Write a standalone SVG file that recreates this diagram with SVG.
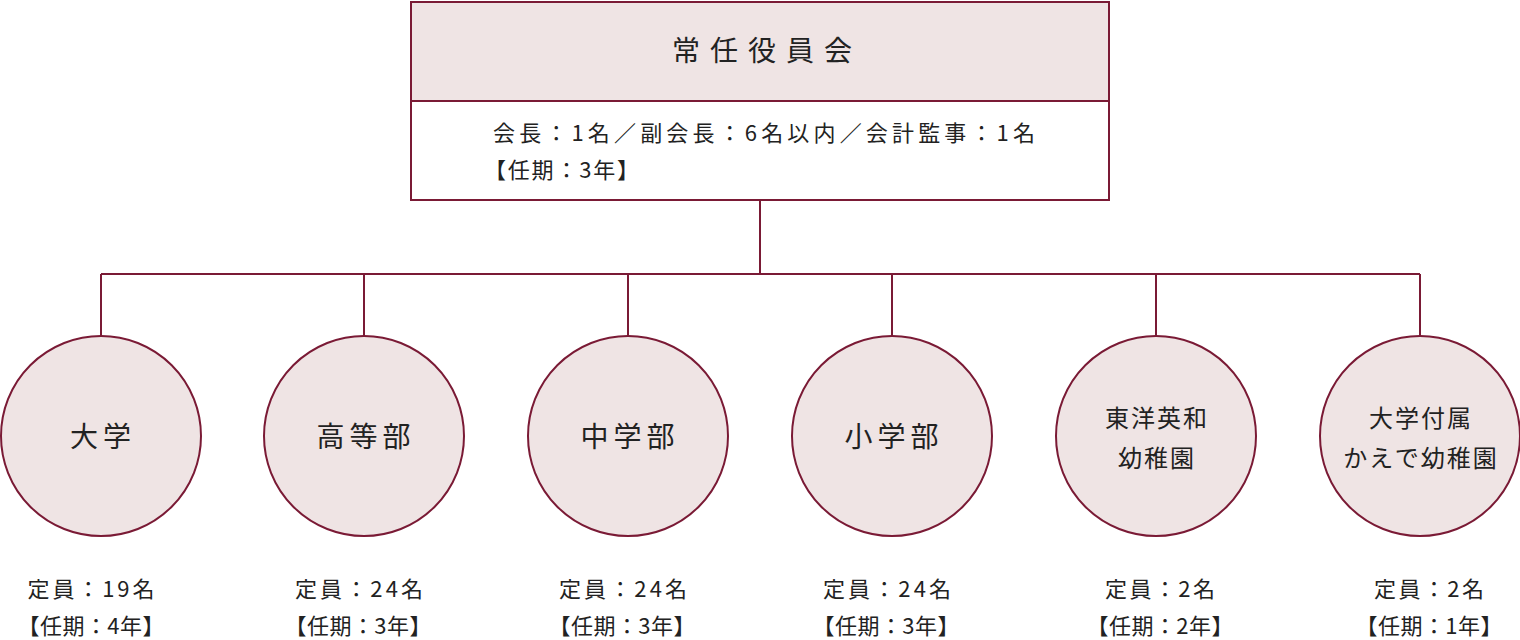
<svg xmlns="http://www.w3.org/2000/svg" width="1520" height="640" viewBox="0 0 1520 640">
<style>
text{font-family:"Noto Sans CJK JP","Noto Sans",sans-serif;fill:#222}
.n{fill:#efe4e4;stroke:#7a1a35;stroke-width:2}
.l{stroke:#7a1a35;stroke-width:2;fill:none}
.c{font-size:28px;text-anchor:middle;letter-spacing:5px}
.c2{font-size:24px;text-anchor:middle;letter-spacing:2px}
.b{font-size:22px;text-anchor:middle}
</style>
<rect width="1520" height="640" fill="#fff"/>
<g id="top">
<rect class="n" x="411" y="2" width="698" height="99"/>
<rect class="l" x="411" y="101" width="698" height="99" fill="#fff"/>
<text x="672" y="61" font-size="28" textLength="180" lengthAdjust="spacing">常任役員会</text>
<text x="493" y="141" font-size="22" textLength="542" lengthAdjust="spacing">会長：1名／副会長：6名以内／会計監事：1名</text>
<text x="484" y="178" font-size="22" textLength="155" lengthAdjust="spacing">【任期：3年】</text>
</g>
<g id="connectors" class="l">
<path d="M760 200V274M101 274H1420M101 274V336M364 274V336M628 274V336M892 274V336M1156 274V336M1420 274V336"/>
</g>
<g id="n1"><circle class="n" cx="101" cy="436" r="100"/><text class="c" x="103" y="447">大学</text><text class="b" x="91" y="597" textLength="127" lengthAdjust="spacing">定員：19名</text><text class="b" x="91" y="634" textLength="147" lengthAdjust="spacing">【任期：4年】</text></g>
<g id="n2"><circle class="n" cx="364" cy="436" r="100"/><text class="c" x="366" y="447">高等部</text><text class="b" x="359" y="597" textLength="128" lengthAdjust="spacing">定員：24名</text><text class="b" x="358" y="634" textLength="147" lengthAdjust="spacing">【任期：3年】</text></g>
<g id="n3"><circle class="n" cx="628" cy="436" r="100"/><text class="c" x="630" y="447">中学部</text><text class="b" x="623" y="597" textLength="128" lengthAdjust="spacing">定員：24名</text><text class="b" x="622" y="634" textLength="147" lengthAdjust="spacing">【任期：3年】</text></g>
<g id="n4"><circle class="n" cx="892" cy="436" r="100"/><text class="c" x="894" y="447">小学部</text><text class="b" x="887" y="597" textLength="128" lengthAdjust="spacing">定員：24名</text><text class="b" x="886" y="634" textLength="147" lengthAdjust="spacing">【任期：3年】</text></g>
<g id="n5"><circle class="n" cx="1156" cy="436" r="100"/><text class="c2" x="1157" y="427">東洋英和</text><text class="c2" x="1157" y="467">幼稚園</text><text class="b" x="1160" y="597" textLength="110" lengthAdjust="spacing">定員：2名</text><text class="b" x="1160" y="634" textLength="147" lengthAdjust="spacing">【任期：2年】</text></g>
<g id="n6"><circle class="n" cx="1420" cy="436" r="100"/><text class="c2" x="1421" y="427">大学付属</text><text class="c2" x="1421" y="467">かえで幼稚園</text><text class="b" x="1429" y="597" textLength="110" lengthAdjust="spacing">定員：2名</text><text class="b" x="1429" y="634" textLength="147" lengthAdjust="spacing">【任期：1年】</text></g>
</svg>
